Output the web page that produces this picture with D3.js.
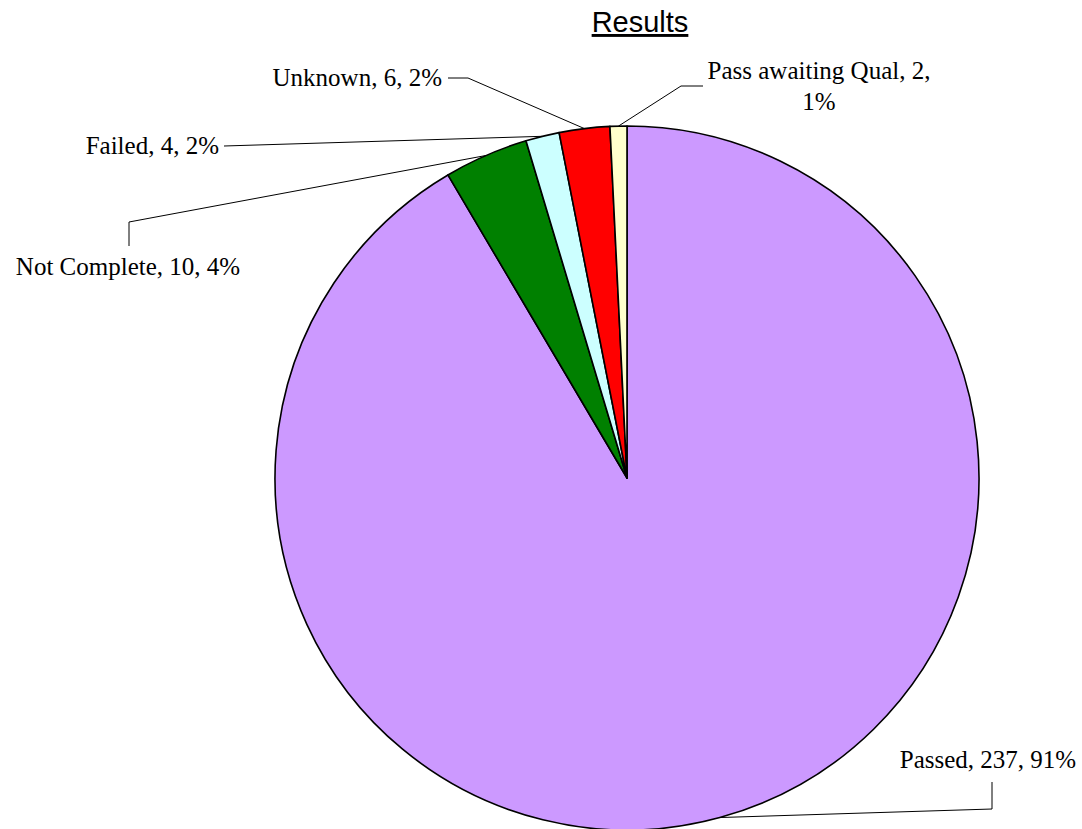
<!DOCTYPE html>
<html>
<head>
<meta charset="utf-8">
<script src="https://cdn.jsdelivr.net/npm/d3@7"></script>
<style>
  body { margin: 0; background: #fff; }
  svg { display: block; }
  .lbl { font-family: "Liberation Serif", "Times New Roman", serif; font-size: 25px; fill: #000; }
  .title { font-family: "Liberation Sans", Arial, sans-serif; font-size: 29px; fill: #000; }
</style>
</head>
<body>
<div id="chart"></div>
<script>
// Pie chart "Results"

var categories = ['Passed', 'Not Complete', 'Failed', 'Unknown', 'Pass awaiting Qual'];
var counts = [237, 10, 4, 6, 2];
var percents = [91, 4, 2, 2, 1];
var sliceColors = ['#CC99FF', '#008000', '#CCFFFF', '#FF0000', '#FFFFCC'];

// label layout: elbow of the leader line, end of leader, text anchor point
var labelLayout = {
    'Passed':             { elbow: [992, 809], end: [992, 782], text: [988, 768], anchor: 'middle', lines: 1 },
    'Not Complete':       { elbow: [129, 222], end: [129, 246], text: [128, 275], anchor: 'middle', lines: 1 },
    'Failed':             { elbow: null,       end: [224, 146], text: [219, 154], anchor: 'end',    lines: 1 },
    'Unknown':            { elbow: [468, 78],  end: [448, 78],  text: [442, 86],  anchor: 'end',    lines: 1 },
    'Pass awaiting Qual': { elbow: [681, 86],  end: [703, 86],  text: [819, 79],  anchor: 'middle', lines: 2 }
};

const width = 1082, height = 829;
const cx = 627, cy = 478, radius = 352;

var data = categories.map((c, i) => ({ name: c, value: counts[i], pct: percents[i], color: sliceColors[i] }));

var svg = d3.select('#chart')
    .append('svg')
    .attr('width', width)
    .attr('height', height);

var pie = d3.pie()
    .sort(null)
    .value(d => d.value);

var arc = d3.arc()
    .innerRadius(0)
    .outerRadius(radius);

var edgeArc = d3.arc()
    .innerRadius(radius)
    .outerRadius(radius);

var arcs = pie(data);

var pieG = svg.append('g')
    .attr('transform', `translate(${cx},${cy})`);

pieG.selectAll('.slice')
    .data(arcs)
    .join('path')
    .classed('slice', true)
    .attr('d', arc)
    .attr('fill', d => d.data.color)
    .attr('stroke', '#000')
    .attr('stroke-width', 1.6)
    .attr('stroke-linejoin', 'round');

// leader lines
var line = d3.line();

svg.selectAll('.leader')
    .data(arcs)
    .join('path')
    .classed('leader', true)
    .attr('d', d => {
        let lay = labelLayout[d.data.name];
        let c = edgeArc.centroid(d);
        let pts = [[c[0] + cx, c[1] + cy]];
        if (lay.elbow) pts.push(lay.elbow);
        pts.push(lay.end);
        return line(pts);
    })
    .attr('fill', 'none')
    .attr('stroke', '#000')
    .attr('stroke-width', 1);

// labels
svg.selectAll('.lbl')
    .data(arcs)
    .join('text')
    .classed('lbl', true)
    .attr('x', d => labelLayout[d.data.name].text[0])
    .attr('y', d => labelLayout[d.data.name].text[1])
    .attr('text-anchor', d => labelLayout[d.data.name].anchor)
    .each(function(d) {
        let lay = labelLayout[d.data.name];
        let full = `${d.data.name}, ${d.data.value}, ${d.data.pct}%`;
        let t = d3.select(this);
        if (lay.lines == 2) {
            t.append('tspan')
                .attr('x', lay.text[0])
                .text(`${d.data.name}, ${d.data.value},`);
            t.append('tspan')
                .attr('x', lay.text[0])
                .attr('dy', 31)
                .text(`${d.data.pct}%`);
        } else {
            t.text(full);
        }
    });

// title
svg.append('text')
    .classed('title', true)
    .attr('x', 640)
    .attr('y', 32)
    .attr('text-anchor', 'middle')
    .attr('text-decoration', 'underline')
    .text('Results');
</script>
</body>
</html>
